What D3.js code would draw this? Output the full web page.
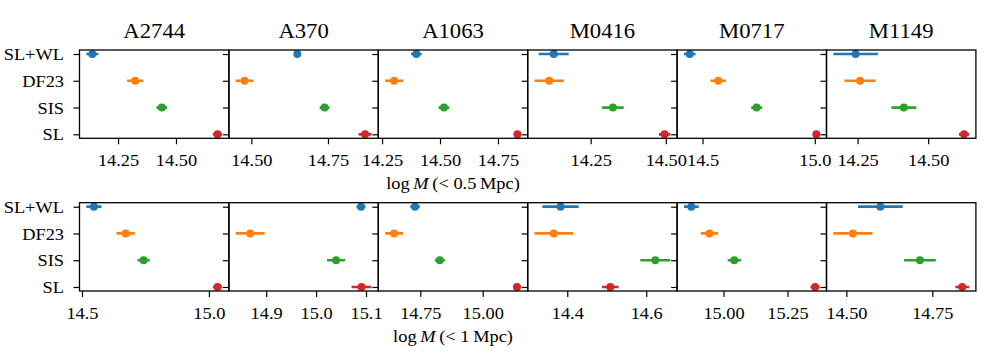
<!DOCTYPE html>
<html>
<head>
<meta charset="utf-8">
<script src="https://cdn.jsdelivr.net/npm/d3@7"></script>
<style>
  body { margin: 0; background: #fff; }
  svg { display: block; }
  text { font-family: "Liberation Serif", "Times New Roman", serif; fill: #000; }
</style>
</head>
<body>
<svg id="chart" width="996" height="356"></svg>
<script>
// clusters (columns) and methods (rows, bottom to top)
const clusters = ["A2744", "A370", "A1063", "M0416", "M0717", "M1149"]
const methods = ["SL", "SIS", "DF23", "SL+WL"]
const methodColors = ["#d62728", "#2ca02c", "#ff7f0e", "#1f77b4"]

// log M (< 0.5 Mpc), one array per method, one value per cluster
const smallSL = [14.679, 14.871, 14.834, 14.496, 15.007, 14.627]
const smallSLerr = [0.020, 0.021, 0.015, 0.019, 0.015, 0.018]
const smallSIS = [14.439, 14.739, 14.517, 14.324, 14.741, 14.414]
const smallSISerr = [0.023, 0.016, 0.023, 0.036, 0.024, 0.044]
const smallDF23 = [14.324, 14.478, 14.302, 14.112, 14.570, 14.259]
const smallDF23err = [0.035, 0.029, 0.039, 0.049, 0.035, 0.055]
const smallSLWL = [14.139, 14.650, 14.398, 14.127, 14.443, 14.243]
const smallSLWLerr = [0.026, 0.010, 0.023, 0.050, 0.026, 0.079]

// log M (< 1 Mpc)
const largeSL = [15.034, 15.091, 15.137, 14.509, 15.358, 14.837]
const largeSLerr = [0.018, 0.020, 0.016, 0.021, 0.018, 0.020]
const largeSIS = [14.743, 15.040, 14.828, 14.623, 15.042, 14.714]
const largeSISerr = [0.024, 0.018, 0.020, 0.038, 0.026, 0.046]
const largeDF23 = [14.672, 14.868, 14.645, 14.366, 14.945, 14.519]
const largeDF23err = [0.036, 0.029, 0.036, 0.049, 0.034, 0.057]
const largeSLWL = [14.547, 15.090, 14.729, 14.383, 14.874, 14.599]
const largeSLWLerr = [0.030, 0.009, 0.019, 0.046, 0.029, 0.065]

// x tick labels per panel
const smallTicks = [["14.25", "14.50"], ["14.50", "14.75"], ["14.25", "14.50", "14.75"],
  ["14.25", "14.50"], ["14.5", "15.0"], ["14.25", "14.50"]]
const largeTicks = [["14.5", "15.0"], ["14.9", "15.0", "15.1"], ["14.75", "15.00"],
  ["14.4", "14.6"], ["15.00", "15.25"], ["14.50", "14.75"]]

const rows = [
  {
    values: [smallSL, smallSIS, smallDF23, smallSLWL],
    errors: [smallSLerr, smallSISerr, smallDF23err, smallSLWLerr],
    ticks: smallTicks,
    label: "0.5\u2009Mpc)",
    top: 50
  },
  {
    values: [largeSL, largeSIS, largeDF23, largeSLWL],
    errors: [largeSLerr, largeSISerr, largeDF23err, largeSLWLerr],
    ticks: largeTicks,
    label: "1\u2009Mpc)",
    top: 202.7
  }
]

const svg = d3.select("#chart")
const left = 79.5
const panelW = 149.4
const panelH = 88.3
const stretch = "scale(1.08,1)"

const y = d3.scaleLinear().domain([-0.15, methods.length - 1 + 0.15]).range([panelH, 0])

rows.forEach(function (row, r) {
  clusters.forEach(function (name, c) {
    const g = svg.append("g")
      .attr("transform", `translate(${left + c * panelW},${row.top})`)

    // same padding as matplotlib: 5% of the data span incl. error bars
    const lo = d3.min(methods, (m, i) => row.values[i][c] - row.errors[i][c])
    const hi = d3.max(methods, (m, i) => row.values[i][c] + row.errors[i][c])
    const pad = (hi - lo) * 0.05
    const x = d3.scaleLinear().domain([lo - pad, hi + pad]).range([0, panelW])

    const pts = methods.map((m, i) => ({
      k: i, v: row.values[i][c], e: row.errors[i][c], color: methodColors[i]
    }))

    const clipId = `clip-${r}-${c}`
    g.append("clipPath").attr("id", clipId)
      .append("rect").attr("width", panelW).attr("height", panelH)
    const plot = g.append("g").attr("clip-path", `url(#${clipId})`)

    plot.selectAll("line.err")
      .data(pts)
      .enter()
      .append("line")
      .attr("class", "err")
      .attr("x1", d => x(d.v - d.e))
      .attr("x2", d => x(d.v + d.e))
      .attr("y1", d => y(d.k))
      .attr("y2", d => y(d.k))
      .attr("stroke", d => d.color)
      .attr("stroke-width", 2.7)

    plot.selectAll("circle")
      .data(pts)
      .enter()
      .append("circle")
      .attr("cx", d => x(d.v))
      .attr("cy", d => y(d.k))
      .attr("r", 4)
      .attr("fill", d => d.color)

    // x axis
    const xAxis = g.append("g")
      .attr("transform", `translate(0,${panelH})`)
      .call(d3.axisBottom(x)
        .tickValues(row.ticks[c].map(Number))
        .tickFormat((d, i) => row.ticks[c][i])
        .tickSizeOuter(0)
        .tickSize(6)
        .tickPadding(4))
    xAxis.select(".domain").remove()
    xAxis.selectAll(".tick line").attr("stroke", "#000").attr("stroke-width", 1.2)
    xAxis.selectAll(".tick text")
      .attr("font-size", 17)
      .attr("font-family", "Liberation Serif")
      .attr("y", 0)
      .attr("dy", 0)
      .attr("transform", `translate(0,28) ${stretch}`)

    // y axis, labels only on the first panel
    const yAxis = g.append("g")
      .call(d3.axisLeft(y)
        .tickValues(methods.map((m, i) => i))
        .tickFormat(i => c === 0 ? methods[i] : "")
        .tickSizeOuter(0)
        .tickSize(6))
    yAxis.select(".domain").remove()
    yAxis.selectAll(".tick line").attr("stroke", "#000").attr("stroke-width", 1.2)
    yAxis.selectAll(".tick text")
      .attr("font-size", 17)
      .attr("font-family", "Liberation Serif")
      .attr("x", 0)
      .attr("dy", "0.33em")
      .attr("transform", `translate(-15.5,0) ${stretch}`)

    // frame
    g.append("rect")
      .attr("width", panelW)
      .attr("height", panelH)
      .attr("fill", "none")
      .attr("stroke", "#000")
      .attr("stroke-width", 1.3)

    if (r === 0) {
      g.append("text")
        .attr("text-anchor", "middle")
        .attr("font-size", 21)
        .attr("transform", `translate(${panelW / 2},-12) ${stretch}`)
        .text(name)
    }

    // x label sits under the third panel
    if (c === 2) {
      const lab = g.append("text")
        .attr("text-anchor", "middle")
        .attr("font-size", 17)
        .attr("transform", `translate(${panelW / 2},${panelH + 51}) ${stretch}`)
      lab.append("tspan").text("log\u2009")
      lab.append("tspan").attr("font-style", "italic").text("M")
      lab.append("tspan").text("\u2009(< " + row.label)
    }
  })
})
</script>
</body>
</html>
